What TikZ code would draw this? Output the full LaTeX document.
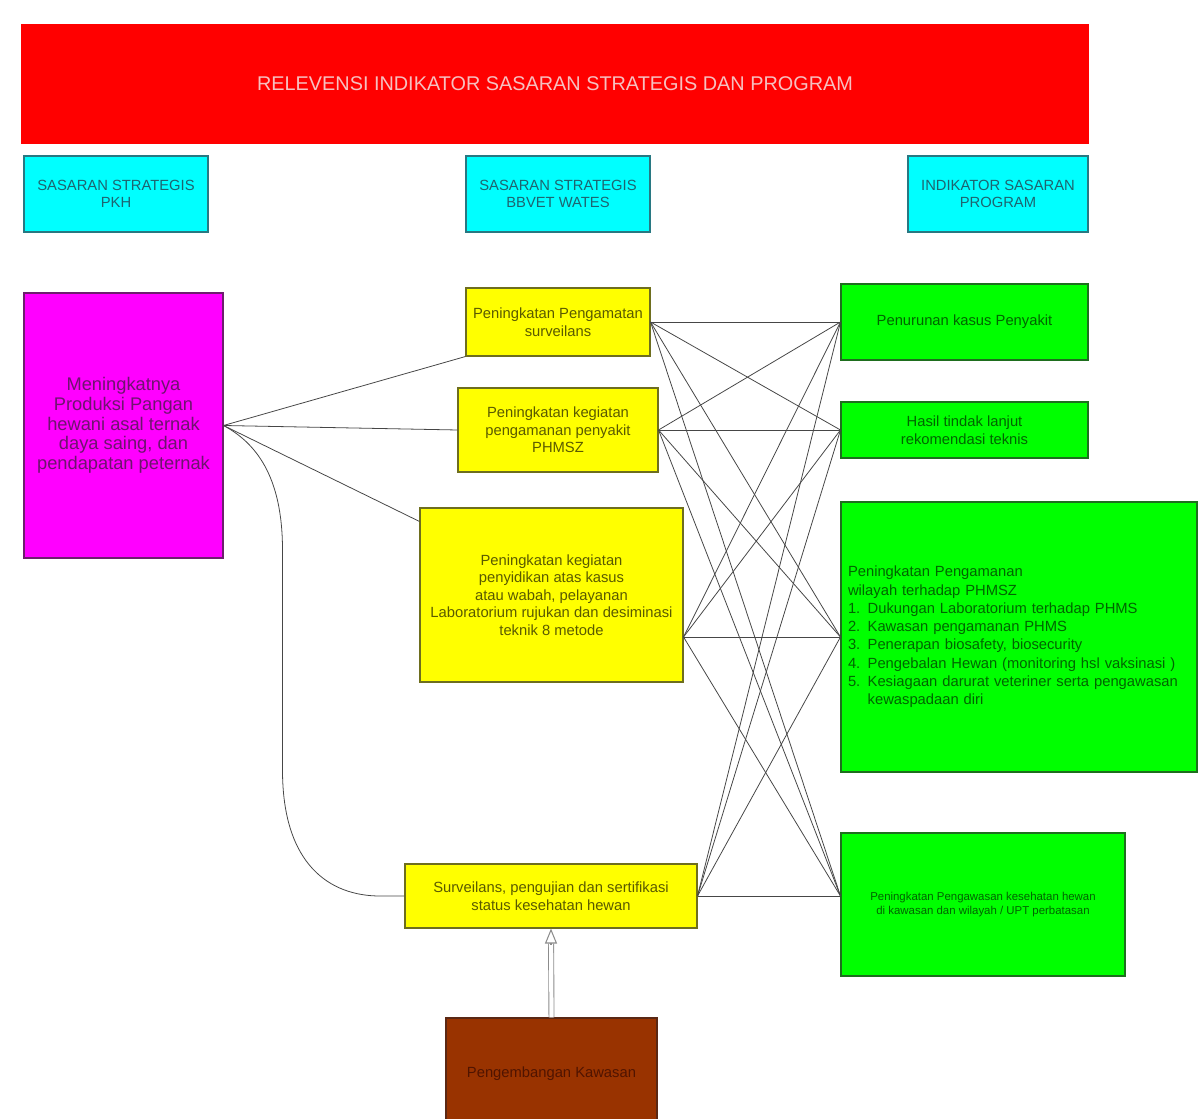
\documentclass[tikz,border=0pt]{standalone}
\usepackage{fontspec}
\setmainfont{Liberation Sans}
\usepackage{xcolor}
\usepackage{tikz}
\usetikzlibrary{arrows.meta}
\definecolor{figred}{RGB}{255,0,0}
\definecolor{figredtx}{RGB}{246,192,192}
\definecolor{figcyan}{RGB}{0,255,255}
\definecolor{figcyanln}{RGB}{40,120,130}
\definecolor{figcyantx}{RGB}{30,100,112}
\definecolor{figmag}{RGB}{255,0,255}
\definecolor{figmagln}{RGB}{110,30,110}
\definecolor{figmagtx}{RGB}{110,20,110}
\definecolor{figyel}{RGB}{255,255,0}
\definecolor{figyelln}{RGB}{110,110,30}
\definecolor{figyeltx}{RGB}{90,90,0}
\definecolor{figgrn}{RGB}{0,255,0}
\definecolor{figgrnln}{RGB}{30,110,30}
\definecolor{figgrntx}{RGB}{0,100,0}
\definecolor{figbrn}{RGB}{153,51,0}
\definecolor{figbrnln}{RGB}{90,40,20}
\definecolor{figbrntx}{RGB}{80,20,0}
\definecolor{figlink}{RGB}{70,70,70}
\tikzset{
  bx/.style   ={line width=0.6pt, inner sep=2pt, align=center},
  ttl/.style  ={bx, fill=figred, draw=figred, text=figredtx, font=\fontsize{11.3}{13}\selectfont},
  hd/.style   ={bx, fill=figcyan, draw=figcyanln, text=figcyantx, minimum height=1.52cm, font=\fontsize{8.4}{10}\selectfont},
  mg/.style   ={bx, fill=figmag, draw=figmagln, text=figmagtx, font=\fontsize{10.4}{11.2}\selectfont},
  yb/.style   ={bx, fill=figyel, draw=figyelln, text=figyeltx, font=\fontsize{8.4}{10}\selectfont},
  gb/.style   ={bx, fill=figgrn, draw=figgrnln, text=figgrntx, font=\fontsize{8.4}{10}\selectfont},
  bb/.style   ={bx, fill=figbrn, draw=figbrnln, text=figbrntx, font=\fontsize{8.4}{10}\selectfont},
  lnk/.style  ={draw=figlink, line width=0.45pt},
  dbl/.style  ={draw=black!45, line width=0.5pt, double=white, double distance=2.4pt},
  otip/.style ={draw=black!45, line width=0.6pt, -{Triangle[open,length=0.3cm,width=0.24cm]}},
}
\begin{document}
\begin{tikzpicture}[scale=1]
  \useasboundingbox (0,0) rectangle (24.06,-22.38);
  \node[ttl,minimum width=21.32cm,minimum height=2.36cm] (ttl) at (11.10,-1.68) {RELEVENSI INDIKATOR SASARAN STRATEGIS DAN PROGRAM};
  \node[hd,minimum width=3.68cm] (hpkh) at (2.32,-3.88) {SASARAN STRATEGIS\\PKH};
  \node[hd,minimum width=3.68cm] (hbb) at (11.16,-3.88) {SASARAN STRATEGIS\\BBVET WATES};
  \node[hd,minimum width=3.60cm] (hind) at (19.96,-3.88) {INDIKATOR SASARAN\\PROGRAM};
  \node[mg,minimum width=3.98cm,minimum height=5.30cm] (mag) at (2.47,-8.51) {Meningkatnya\\Produksi Pangan\\hewani asal ternak\\daya saing, dan\\pendapatan peternak};
  \node[yb,minimum width=3.68cm,minimum height=1.36cm] (y1) at (11.16,-6.44) {Peningkatan Pengamatan\\surveilans};
  \node[yb,minimum width=4.00cm,minimum height=1.68cm] (y2) at (11.16,-8.60) {Peningkatan kegiatan\\pengamanan penyakit\\PHMSZ};
  \node[yb,minimum width=5.26cm,minimum height=3.48cm] (y3) at (11.03,-11.90) {Peningkatan kegiatan\\penyidikan atas kasus\\atau wabah, pelayanan\\Laboratorium rujukan dan desiminasi\\teknik 8 metode};
  \node[yb,minimum width=5.84cm,minimum height=1.28cm] (y4) at (11.02,-17.92) {Surveilans, pengujian dan sertifikasi\\status kesehatan hewan};
  \node[bb,minimum width=4.22cm,minimum height=2.24cm] (br) at (11.03,-21.48) {Pengembangan Kawasan};
  \node[gb,minimum width=4.94cm,minimum height=1.52cm] (g1) at (19.29,-6.44) {Penurunan kasus Penyakit};
  \node[gb,minimum width=4.94cm,minimum height=1.12cm] (g2) at (19.29,-8.60) {Hasil tindak lanjut\\rekomendasi teknis};
  \node[gb,text width=6.84cm,inner sep=0.14cm,minimum height=5.40cm,align=left,font=\fontsize{8.4}{10.4}\selectfont] (g3) at (20.38,-12.74) {Peningkatan Pengamanan\\wilayah terhadap PHMSZ\\1. Dukungan Laboratorium terhadap PHMS\\2. Kawasan pengamanan PHMS\\3. Penerapan biosafety, biosecurity\\4. Pengebalan Hewan (monitoring hsl vaksinasi )\\5. Kesiagaan darurat veteriner serta pengawasan\\\phantom{5. }kewaspadaan diri};
  \node[gb,minimum width=5.68cm,minimum height=2.86cm,font=\fontsize{6.5}{8}\selectfont] (g4) at (19.66,-18.09) {Peningkatan Pengawasan kesehatan hewan\\di kawasan dan wilayah / UPT perbatasan};
  \coordinate (y3p) at (y3.east |- g3.west);
  \coordinate (g4p) at (g4.west |- y4.east);
  \draw[lnk] (mag.east) -- (y1.south west);
  \draw[lnk] (mag.east) -- (y2.west);
  \draw[lnk] (mag.east) -- ([yshift=-0.28cm]y3.north west);
  \draw[lnk] (mag.east) .. controls (5.1,-8.85) and (5.65,-9.5) .. (5.65,-11.0) -- (5.65,-15.4) .. controls (5.65,-17.3) and (6.6,-17.92) .. (7.6,-17.92) -- (y4.west);
  \draw[lnk] (y1.east) -- (g1.west);
  \draw[lnk] (y1.east) -- (g2.west);
  \draw[lnk] (y1.east) -- (g3.west);
  \draw[lnk] (y1.east) -- (g4p);
  \draw[lnk] (y2.east) -- (g1.west);
  \draw[lnk] (y2.east) -- (g2.west);
  \draw[lnk] (y2.east) -- (g3.west);
  \draw[lnk] (y2.east) -- (g4p);
  \draw[lnk] (y3p) -- (g1.west);
  \draw[lnk] (y3p) -- (g2.west);
  \draw[lnk] (y3p) -- (g3.west);
  \draw[lnk] (y3p) -- (g4p);
  \draw[lnk] (y4.east) -- (g1.west);
  \draw[lnk] (y4.east) -- (g2.west);
  \draw[lnk] (y4.east) -- (g3.west);
  \draw[lnk] (y4.east) -- (g4p);
  \draw[dbl,shorten >=0.3cm] (br.north) -- (y4.south);
  \draw[otip] ([yshift=-0.32cm]y4.south) -- (y4.south);
\end{tikzpicture}
\end{document}
